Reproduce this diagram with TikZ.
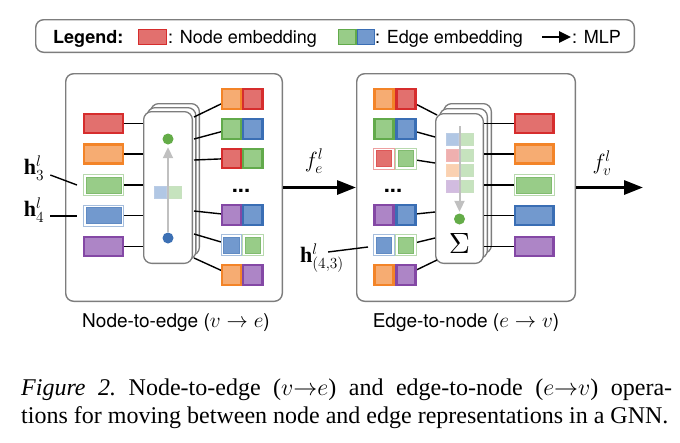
\RequirePackage{fix-cm}
\documentclass[tikz,border=0pt]{standalone}
\usepackage{fontspec}
\setmainfont{Liberation Serif}
\setsansfont{TeX Gyre Heros}
\usetikzlibrary{arrows.meta,calc}
\pgfdeclarelayer{bg}
\pgfdeclarelayer{mid}
\pgfsetlayers{bg,mid,main}
\definecolor{rB}{RGB}{214,45,45}
\definecolor{rF}{RGB}{226,112,110}
\definecolor{oB}{RGB}{243,132,40}
\definecolor{oF}{RGB}{246,172,114}
\definecolor{gB}{RGB}{98,170,75}
\definecolor{gF}{RGB}{152,204,136}
\definecolor{bB}{RGB}{58,110,180}
\definecolor{bF}{RGB}{114,153,206}
\definecolor{pB}{RGB}{132,72,165}
\definecolor{pF}{RGB}{173,133,198}
\definecolor{framegray}{RGB}{125,125,125}
\definecolor{flowgray}{RGB}{192,192,192}
\definecolor{dotgreen}{RGB}{100,172,72}
\definecolor{dotblue}{RGB}{60,112,180}
\begin{document}
\begin{tikzpicture}[x=1pt,y=-1pt,
  panel/.style={draw=framegray, line width=1.4pt, rounded corners=8pt, inner sep=0pt},
  mlpbox/.style={draw=framegray, fill=white, line width=1.3pt, rounded corners=8pt, inner sep=0pt},
  nemb/.style={draw=#1B, fill=#1F, line width=2.4pt, minimum width=38.6pt, minimum height=19pt, inner sep=0pt},
  nhl/.style={draw=#1B!45, fill=white, line width=0.8pt, minimum width=40.2pt, minimum height=21pt, inner sep=0pt,
    path picture={\draw[#1B!80, fill=#1F, line width=0.8pt]
      ([shift={(2.6pt,-2.6pt)}]path picture bounding box.north west) rectangle
      ([shift={(-2.6pt,2.6pt)}]path picture bounding box.south east);}},
  ehalf/.style={draw=#1B, fill=#1F, line width=2.4pt, minimum width=19.1pt, minimum height=19.5pt, inner sep=0pt},
  ehl/.style={draw=#1B!45, fill=white, line width=0.8pt, minimum width=20.7pt, minimum height=21pt, inner sep=0pt,
    path picture={\draw[#1B!80, fill=#1F, line width=0.8pt]
      ([shift={(2.6pt,-2.6pt)}]path picture bounding box.north west) rectangle
      ([shift={(-2.6pt,2.6pt)}]path picture bounding box.south east);}},
  mini/.style={draw=#1B!35, fill=#1F!55, line width=0.6pt, minimum size=12.4pt, inner sep=0pt},
  link/.style={line width=1.4pt, black},
  flow/.style={line width=2pt, flowgray, -{Triangle[length=11pt,width=10pt]}},
  bigarrow/.style={line width=3pt, black, -{Triangle[length=19pt,width=14pt]}},
  dotnode/.style={circle, fill=#1, minimum size=11pt, inner sep=0pt},
  sanslbl/.style={font=\sffamily\fontsize{18}{21}\selectfont, inner sep=0pt},
  mathlbl/.style={font=\fontsize{22}{24}\selectfont, inner sep=0pt},
  dotsl/.style={font=\sffamily\bfseries\fontsize{22}{22}\selectfont, inner sep=0pt, anchor=base},
]
\useasboundingbox (0,0) rectangle (680,442);

% ---------------- legend ----------------
\node[panel, minimum width=598.6pt, minimum height=32.6pt] (legend) at (335,36) {};
\node[sanslbl, anchor=base west, font=\sffamily\bfseries\fontsize{18}{21}\selectfont] (lgT) at (53,43) {Legend:};
\node[draw=rB, fill=rF, line width=1.4pt, minimum width=27.6pt, minimum height=14.6pt, inner sep=0pt] (lgN) at (152.5,37) {};
\node[sanslbl, anchor=base west] (lgNt) at (168,43) {: Node embedding};
\node[draw=gB, fill=gF, line width=1.4pt, minimum width=17.1pt, minimum height=14.6pt, inner sep=0pt] (lgE1) at (347.25,37) {};
\node[draw=bB, fill=bF, line width=1.4pt, minimum width=17.1pt, minimum height=14.6pt, inner sep=0pt] (lgE2) at (365.75,37) {};
\node[sanslbl, anchor=base west] (lgEt) at (375,43) {: Edge embedding};
\coordinate (lgA1) at (542,37);
\coordinate (lgA2) at (571,37);
\draw[line width=2.6pt, -{Triangle[length=12pt,width=11pt]}] (lgA1) -- (lgA2);
\node[sanslbl, anchor=base west] (lgMt) at (572,43) {: MLP};

% ---------------- panels and MLP stacks ----------------
\begin{pgfonlayer}{bg}
\node[panel, minimum width=216.6pt, minimum height=227.6pt] (pA) at (174,187.5) {};
\node[panel, minimum width=218.6pt, minimum height=227.6pt] (pB) at (466,187.5) {};
\node[mlpbox, minimum width=48.7pt, minimum height=151.7pt] (mlpA3) at (175,179.5) {};
\node[mlpbox, minimum width=48.7pt, minimum height=151.7pt] (mlpA2) at (171.5,183.5) {};
\node[mlpbox, minimum width=48.7pt, minimum height=151.7pt] (mlpA) at (168,187.5) {};
\node[mlpbox, minimum width=47.7pt, minimum height=149.7pt] (mlpB3) at (467.5,178.5) {};
\node[mlpbox, minimum width=47.7pt, minimum height=149.7pt] (mlpB2) at (463.5,183.5) {};
\node[mlpbox, minimum width=47.7pt, minimum height=149.7pt] (mlpB) at (459.5,188.5) {};
\end{pgfonlayer}

% ---------------- left panel: node embeddings ----------------
\node[nemb=r] (nA1) at (103.5,123.5) {};
\node[nemb=o] (nA2) at (103.5,154) {};
\node[nhl=g]  (nA3) at (103.5,185) {};
\node[nhl=b]  (nA4) at (103.5,215.5) {};
\node[nemb=p] (nA5) at (103.5,246.5) {};
\foreach \i in {1,...,5}{\draw[link] (nA\i.east) -- (nA\i -| mlpA.west);}

% left MLP inside
\node[dotnode=dotgreen] (dA1) at (168,139) {};
\node[dotnode=dotblue]  (dA2) at (168,238) {};
\draw[flow, shorten >=2.5pt] (dA2) -- (dA1);
\node[mini=b] (mA1) at (160.5,192) {};
\node[mini=g] (mA2) at (175.5,192) {};

% left panel: edge embeddings
\node[ehalf=o] (eA1a) at (231.25,99) {};  \node[ehalf=r] (eA1b) at (252.75,99) {};
\node[ehalf=g] (eA2a) at (231.25,129) {}; \node[ehalf=b] (eA2b) at (252.75,129) {};
\node[ehalf=r] (eA3a) at (231.25,158.5) {}; \node[ehalf=g] (eA3b) at (252.75,158.5) {};
\node[dotsl] (dotsA) at (241,192) {...};
\node[ehalf=p] (eA4a) at (231.25,215) {}; \node[ehalf=b] (eA4b) at (252.75,215) {};
\node[ehl=b] (eA5a) at (231.25,245) {};   \node[ehl=g] (eA5b) at (252.75,245) {};
\node[ehalf=o] (eA6a) at (231.25,275) {}; \node[ehalf=p] (eA6b) at (252.75,275) {};

\coordinate (aR1) at (194,117);
\coordinate (aR2) at (194,139);
\coordinate (aR3) at (194,160);
\coordinate (aR4) at (194,211);
\coordinate (aR5) at (194,234);
\coordinate (aR6) at (194,258);
\begin{pgfonlayer}{mid}
\foreach \i in {1,...,6}{\draw[link] (aR\i) -- (eA\i a.center);}
\end{pgfonlayer}

% ---------------- right panel: edge embeddings ----------------
\node[ehalf=o] (eB1a) at (384,99) {};   \node[ehalf=r] (eB1b) at (406,99) {};
\node[ehalf=g] (eB2a) at (384,129) {};  \node[ehalf=b] (eB2b) at (406,129) {};
\node[ehl=r] (eB3a) at (384,158.5) {};  \node[ehl=g] (eB3b) at (406,158.5) {};
\node[dotsl] (dotsB) at (393,192) {...};
\node[ehalf=p] (eB4a) at (384,215) {};  \node[ehalf=b] (eB4b) at (406,215) {};
\node[ehl=b] (eB5a) at (384,245) {};    \node[ehl=g] (eB5b) at (406,245) {};
\node[ehalf=o] (eB6a) at (384,275) {};  \node[ehalf=p] (eB6b) at (406,275) {};

\coordinate (bL1) at (437,115);
\coordinate (bL2) at (435,137);
\coordinate (bL3) at (435,163);
\coordinate (bL4) at (435,212);
\coordinate (bL5) at (435,238);
\coordinate (bL6) at (437,260);
\begin{pgfonlayer}{mid}
\foreach \i in {1,...,6}{\draw[link] (eB\i b.center) -- (bL\i);}
\end{pgfonlayer}

% right MLP inside
\coordinate (sTop) at (459.5,126);
\node[dotnode=dotgreen] (dB1) at (459.5,219) {};
\draw[flow, shorten >=1.5pt] (sTop) -- (dB1);
\node[mini=b] (mB1a) at (452,139.5) {}; \node[mini=g] (mB1b) at (467,139.5) {};
\node[mini=r] (mB2a) at (452,155) {};   \node[mini=g] (mB2b) at (467,155) {};
\node[mini=o] (mB3a) at (452,170.5) {}; \node[mini=g] (mB3b) at (467,170.5) {};
\node[mini=p] (mB4a) at (452,186) {};   \node[mini=g] (mB4b) at (467,186) {};
\node[inner sep=0pt] (sig) at (459.5,243.5) {\resizebox{!}{20pt}{$\Sigma$}};

% right panel: node embeddings
\node[nemb=r] (nB1) at (534,123.5) {};
\node[nemb=o] (nB2) at (534,154) {};
\node[nhl=g]  (nB3) at (534,185) {};
\node[nemb=b] (nB4) at (534,215.5) {};
\node[nemb=p] (nB5) at (534,246.5) {};
\foreach \i in {1,...,5}{\draw[link] (nB\i -| mlpB.east) -- (nB\i.west);}

% ---------------- arrows between panels ----------------
\draw[bigarrow] (pA.east) -- (pB.west);
\coordinate (fvEnd) at (643,187.5);
\draw[bigarrow] (pB.east) -- (fvEnd);
\node[mathlbl] (fe) at (314,161) {$f_e^l$};
\node[mathlbl] (fv) at (602,163) {$f_v^l$};

% ---------------- h labels ----------------
\node[mathlbl] (h3) at (34,168) {$\mathbf{h}_3^l$};
\node[mathlbl] (h4) at (34,210) {$\mathbf{h}_4^l$};
\node[mathlbl] (h43) at (322,258) {$\mathbf{h}_{(4,3)}^l$};
\coordinate (h3e) at (77,185);
\coordinate (h4e) at (77,216);
\coordinate (h43e) at (368,247);
\draw[link] ([shift={(6pt,-7pt)}]h3.east) -- (h3e);
\draw[link] ([shift={(6pt,-6pt)}]h4.east) -- (h4e);
\draw[link] ([shift={(-16pt,6pt)}]h43.east) -- (h43e);

% ---------------- panel captions ----------------
\node[sanslbl, anchor=base, font=\sffamily\fontsize{19}{22}\selectfont] (capA) at (176,327) {Node-to-edge (\scalebox{1.12}{$v\rightarrow e$})};
\node[sanslbl, anchor=base, font=\sffamily\fontsize{19}{22}\selectfont] (capB) at (466,327) {Edge-to-node (\scalebox{1.12}{$e\rightarrow v$})};

% ---------------- figure caption ----------------
\node[anchor=base west, inner sep=0pt, font=\fontsize{24}{28}\selectfont] (cap1) at (21,395)
  {\frenchspacing\makebox[651pt][s]{\textit{Figure 2.} Node-to-edge ($v{\rightarrow}e$) and edge-to-node ($e{\rightarrow}v$) opera-}};
\node[anchor=base west, inner sep=0pt, font=\fontsize{24}{28}\selectfont] (cap2) at (21,423)
  {tions for moving between node and edge representations in a GNN.};
\end{tikzpicture}
\end{document}
